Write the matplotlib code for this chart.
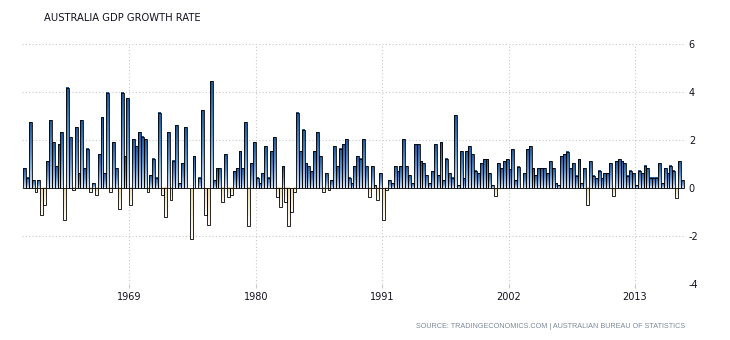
import matplotlib
matplotlib.use("Agg")
import matplotlib.pyplot as plt
import numpy as np
from matplotlib.colors import LinearSegmentedColormap

# Quarterly GDP growth rate (%), 1959 Q4 .. 2017 Q1
start_year = 1959.875  # middle of 1959 Q4
growth = [
    0.83, 0.42, 2.74, 0.32, -0.18, 0.32, -1.11, -0.72, 1.11, 2.82,
    1.90, 0.90, 1.83, 2.33, -1.32, 4.17, 2.11, -0.10, 2.53, 0.61,
    2.82, 0.83, 1.63, -0.18, 0.19, -0.31, 1.40, 2.94, 0.61, 3.96,
    -0.18, 1.90, 0.83, -0.89, 3.96, 1.32, 3.75, -0.72, 2.04, 1.74,
    2.33, 2.13, 2.04, -0.18, 0.53, 1.21, 0.42, 3.13, -0.31, -1.22,
    2.33, -0.51, 1.13, 2.61, 0.19, 1.03, 2.53, 0.00, -2.11, 1.32,
    0.00, 0.42, 3.24, -1.11, -1.53, 4.44, 0.32, 0.83, 0.83, -0.60,
    1.40, -0.39, -0.31, 0.69, 0.83, 1.53, 0.83, 2.74, -1.60, 1.03,
    1.90, 0.42, 0.19, 0.61, 1.74, 0.42, 1.53, 2.11, -0.39, -0.81,
    0.90, -0.60, -1.60, -1.00, -0.18, 3.13, 1.53, 2.43, 1.03, 0.90,
    0.69, 1.53, 2.33, 1.32, -0.18, 0.61, -0.10, 0.32, 1.74, 0.90,
    1.63, 1.83, 2.04, 0.42, 0.19, 0.90, 1.32, 1.21, 2.04, 0.90,
    -0.39, 0.90, 0.11, -0.51, 0.61, -1.32, -0.10, 0.32, 0.19, 0.90,
    0.69, 0.90, 2.04, 0.90, 0.53, 0.19, 1.83, 1.83, 1.11, 1.03,
    0.53, 0.19, 0.69, 1.83, 0.53, 1.90, 0.32, 1.21, 0.61, 0.42,
    3.03, 0.12, 1.54, 0.40, 1.54, 1.74, 1.40, 0.71, 0.61, 1.03,
    1.19, 1.19, 0.61, 0.12, -0.32, 1.03, 0.82, 1.12, 1.19, 0.78,
    1.62, 0.33, 0.89, 0.00, 0.61, 1.62, 1.74, 0.82, 0.54, 0.82,
    0.82, 0.82, 0.61, 1.12, 0.82, 0.19, 0.12, 1.32, 1.40, 1.51,
    0.82, 1.03, 0.51, 1.19, 0.19, 0.82, -0.71, 1.12, 0.51, 0.40,
    0.71, 0.40, 0.61, 0.61, 1.03, -0.32, 1.12, 1.19, 1.12, 1.03,
    0.51, 0.71, 0.61, 0.12, 0.71, 0.61, 0.92, 0.82, 0.43, 0.43,
    0.43, 1.03, 0.19, 0.82, 0.61, 0.92, 0.71, -0.40, 1.12, 0.33,
]
x_ticks = [1969, 1980, 1991, 2002, 2013]
y_ticks = [-4, -2, 0, 2, 4, 6]
title = "AUSTRALIA GDP GROWTH RATE"
source = "SOURCE: TRADINGECONOMICS.COM | AUSTRALIAN BUREAU OF STATISTICS"

quarters = start_year + 0.25 * np.arange(len(growth))

W, H = 730, 340
fig = plt.figure(figsize=(W / 100, H / 100), dpi=100)
fig.patch.set_facecolor("white")
ax = fig.add_axes([22 / W, 1 - 284 / H, (686 - 22) / W, 240 / H])

pos_cmap = LinearSegmentedColormap.from_list("pos", ["#d2e2f3", "#5f92cb", "#1f5697"])
neg_cmap = LinearSegmentedColormap.from_list("neg", ["#fffcf5", "#eedaae"])
grad = np.linspace(0, 1, 64).reshape(-1, 1)
w = 0.25
for x, v in zip(quarters, growth):
    if v > 0:
        ax.imshow(grad, extent=[x - w / 2, x + w / 2, 0, v], origin="lower",
                  cmap=pos_cmap, aspect="auto", interpolation="bilinear", zorder=2)
    elif v < 0:
        ax.imshow(grad, extent=[x - w / 2, x + w / 2, v, 0], origin="lower",
                  cmap=neg_cmap, aspect="auto", interpolation="bilinear", zorder=2)

ax.bar(quarters, growth, width=w, facecolor="none", edgecolor="black",
       linewidth=0.6, zorder=3)

ax.set_xlim(1959.66, 2017.44)
ax.set_ylim(-4, 6)
ax.set_xticks(x_ticks)
ax.set_xticklabels([str(t) for t in x_ticks])
ax.set_yticks(y_ticks)
ax.set_yticklabels([str(t) for t in y_ticks])
ax.yaxis.tick_right()
ax.grid(True, color="#c8c8c8", linestyle=(0, (1, 2)), linewidth=0.8, zorder=0)
for s in ax.spines.values():
    s.set_visible(False)
ax.tick_params(axis="x", length=3, color="#c8c8c8", pad=3, labelsize=7, labelcolor="#111122")
ax.tick_params(axis="y", length=0, pad=2, labelsize=7, labelcolor="#111122")

fig.text(44 / W, 1 - 18 / H, title, ha="left", va="center", fontsize=7.2, color="#111122")
fig.text(685 / W, 1 - 326 / H, source, ha="right", va="center", fontsize=5.2,
         color="#7d8a99", family=["Liberation Sans", "DejaVu Sans"])

fig.savefig("out.png", dpi=100, facecolor="white")
